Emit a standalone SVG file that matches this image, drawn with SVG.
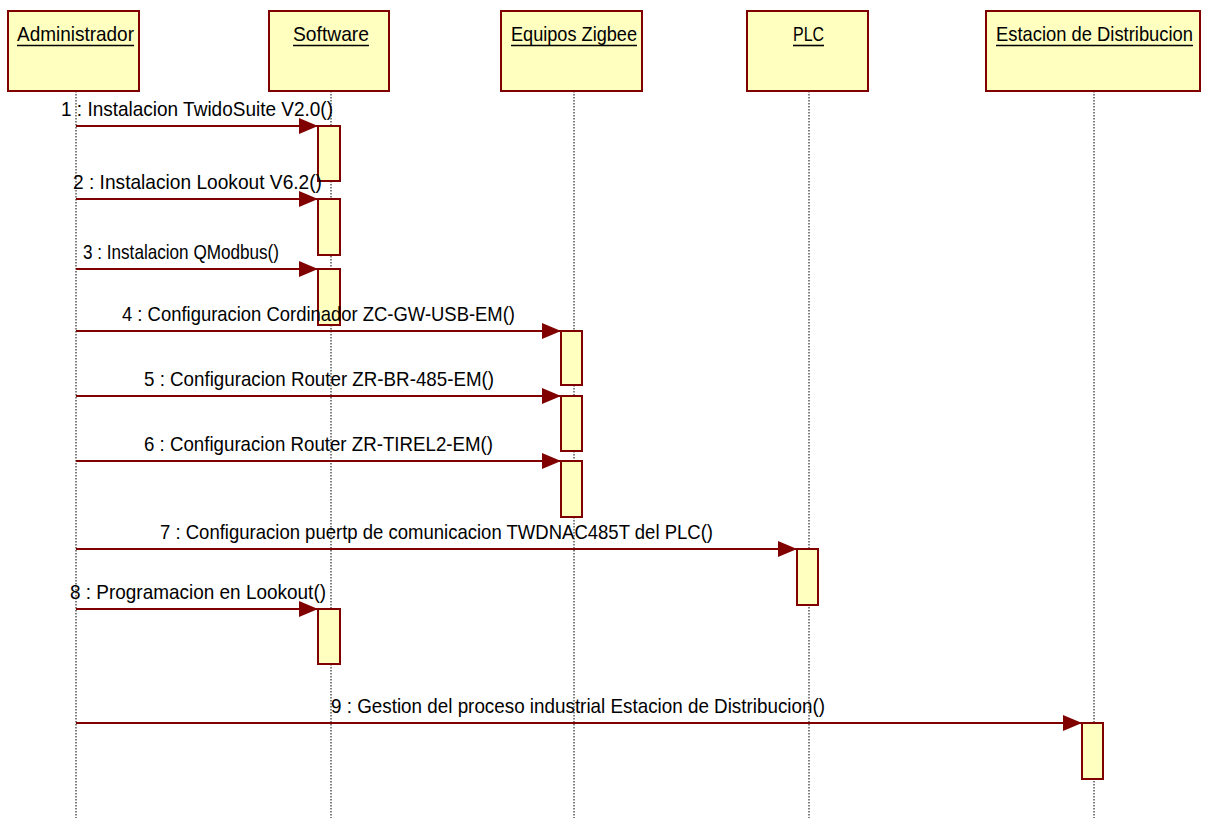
<svg xmlns="http://www.w3.org/2000/svg" width="1206" height="818" viewBox="0 0 1206 818">
  <style>
    .head { fill: #ffffc0; stroke: #800000; stroke-width: 2; }
    .act { fill: #ffffc0; stroke: #800000; stroke-width: 2; }
    .life { stroke: #000; stroke-width: 1; stroke-dasharray: 1.5 1.5; fill: none; }
    .title { font-family: "Liberation Sans", Arial, sans-serif; font-size: 21px; fill: #000; }
    .uline { stroke: #000; stroke-width: 1.6; }
    .msg { stroke: #800000; stroke-width: 2; fill: none; marker-end: url(#arrow); }
    .lbl { font-family: "Liberation Sans", Arial, sans-serif; font-size: 21px; fill: #000; }
  </style>
  <defs>
    <marker id="arrow" markerUnits="userSpaceOnUse" markerWidth="20" markerHeight="17" refX="19" refY="8" orient="auto" overflow="visible">
      <path d="M0,0 L19,8 L0,16 Z" fill="#800000"/>
    </marker>
  </defs>
  <rect width="1206" height="818" fill="#fff"/>

  <!-- Lifelines with headers and activation bars -->
  <g id="administrador">
    <line class="life" x1="76" y1="91" x2="76" y2="818"/>
    <rect class="head" x="8" y="11" width="131" height="80"/>
    <text class="title" x="17" y="41" textLength="117" lengthAdjust="spacingAndGlyphs">Administrador</text>
    <line class="uline" x1="17" y1="45.5" x2="134" y2="45.5"/>
  </g>

  <g id="software">
    <line class="life" x1="331" y1="91" x2="331" y2="818"/>
    <rect class="head" x="269" y="11" width="120" height="80"/>
    <text class="title" x="293" y="41" textLength="76" lengthAdjust="spacingAndGlyphs">Software</text>
    <line class="uline" x1="293" y1="45.5" x2="369" y2="45.5"/>
    <rect class="act" x="318" y="126" width="22" height="55"/>
    <rect class="act" x="318" y="199" width="22" height="56"/>
    <rect class="act" x="318" y="269" width="22" height="56"/>
    <rect class="act" x="318" y="609" width="22" height="55"/>
  </g>

  <g id="equipos-zigbee">
    <line class="life" x1="574" y1="91" x2="574" y2="818"/>
    <rect class="head" x="501" y="11" width="141" height="80"/>
    <text class="title" x="511" y="41" textLength="126" lengthAdjust="spacingAndGlyphs">Equipos Zigbee</text>
    <line class="uline" x1="511" y1="45.5" x2="637" y2="45.5"/>
    <rect class="act" x="561" y="331" width="21" height="54"/>
    <rect class="act" x="561" y="396" width="21" height="55"/>
    <rect class="act" x="561" y="461" width="21" height="56"/>
  </g>

  <g id="plc">
    <line class="life" x1="809" y1="91" x2="809" y2="818"/>
    <rect class="head" x="747" y="11" width="121" height="80"/>
    <text class="title" x="793" y="41" textLength="31" lengthAdjust="spacingAndGlyphs">PLC</text>
    <line class="uline" x1="793" y1="45.5" x2="824" y2="45.5"/>
    <rect class="act" x="797" y="549" width="21" height="56"/>
  </g>

  <g id="estacion-distribucion">
    <line class="life" x1="1094" y1="91" x2="1094" y2="818"/>
    <rect class="head" x="986" y="11" width="214" height="80"/>
    <text class="title" x="996" y="41" textLength="197" lengthAdjust="spacingAndGlyphs">Estacion de Distribucion</text>
    <line class="uline" x1="996" y1="45.5" x2="1193" y2="45.5"/>
    <rect class="act" x="1082" y="723" width="21" height="56"/>
  </g>

  <!-- Messages -->
  <g id="connectors">
    <line class="msg" x1="76" y1="126" x2="318" y2="126"/>
    <text class="lbl" x="61" y="116" textLength="272" lengthAdjust="spacingAndGlyphs">1 : Instalacion TwidoSuite V2.0()</text>

    <line class="msg" x1="76" y1="199" x2="318" y2="199"/>
    <text class="lbl" x="73" y="189" textLength="249" lengthAdjust="spacingAndGlyphs">2 : Instalacion Lookout V6.2()</text>

    <line class="msg" x1="76" y1="269" x2="318" y2="269"/>
    <text class="lbl" x="83" y="259" textLength="196" lengthAdjust="spacingAndGlyphs">3 : Instalacion QModbus()</text>

    <line class="msg" x1="76" y1="331" x2="561" y2="331"/>
    <text class="lbl" x="122" y="321" textLength="393" lengthAdjust="spacingAndGlyphs">4 : Configuracion Cordinador ZC-GW-USB-EM()</text>

    <line class="msg" x1="76" y1="396" x2="561" y2="396"/>
    <text class="lbl" x="144" y="386" textLength="350" lengthAdjust="spacingAndGlyphs">5 : Configuracion Router ZR-BR-485-EM()</text>

    <line class="msg" x1="76" y1="461" x2="561" y2="461"/>
    <text class="lbl" x="144" y="451" textLength="349" lengthAdjust="spacingAndGlyphs">6 : Configuracion Router ZR-TIREL2-EM()</text>

    <line class="msg" x1="76" y1="549" x2="797" y2="549"/>
    <text class="lbl" x="160" y="539" textLength="553" lengthAdjust="spacingAndGlyphs">7 : Configuracion puertp de comunicacion TWDNAC485T del PLC()</text>

    <line class="msg" x1="76" y1="609" x2="318" y2="609"/>
    <text class="lbl" x="70" y="599" textLength="256" lengthAdjust="spacingAndGlyphs">8 : Programacion en Lookout()</text>

    <line class="msg" x1="76" y1="723" x2="1082" y2="723"/>
    <text class="lbl" x="331" y="713" textLength="494" lengthAdjust="spacingAndGlyphs">9 : Gestion del proceso industrial Estacion de Distribucion()</text>
  </g>
</svg>
